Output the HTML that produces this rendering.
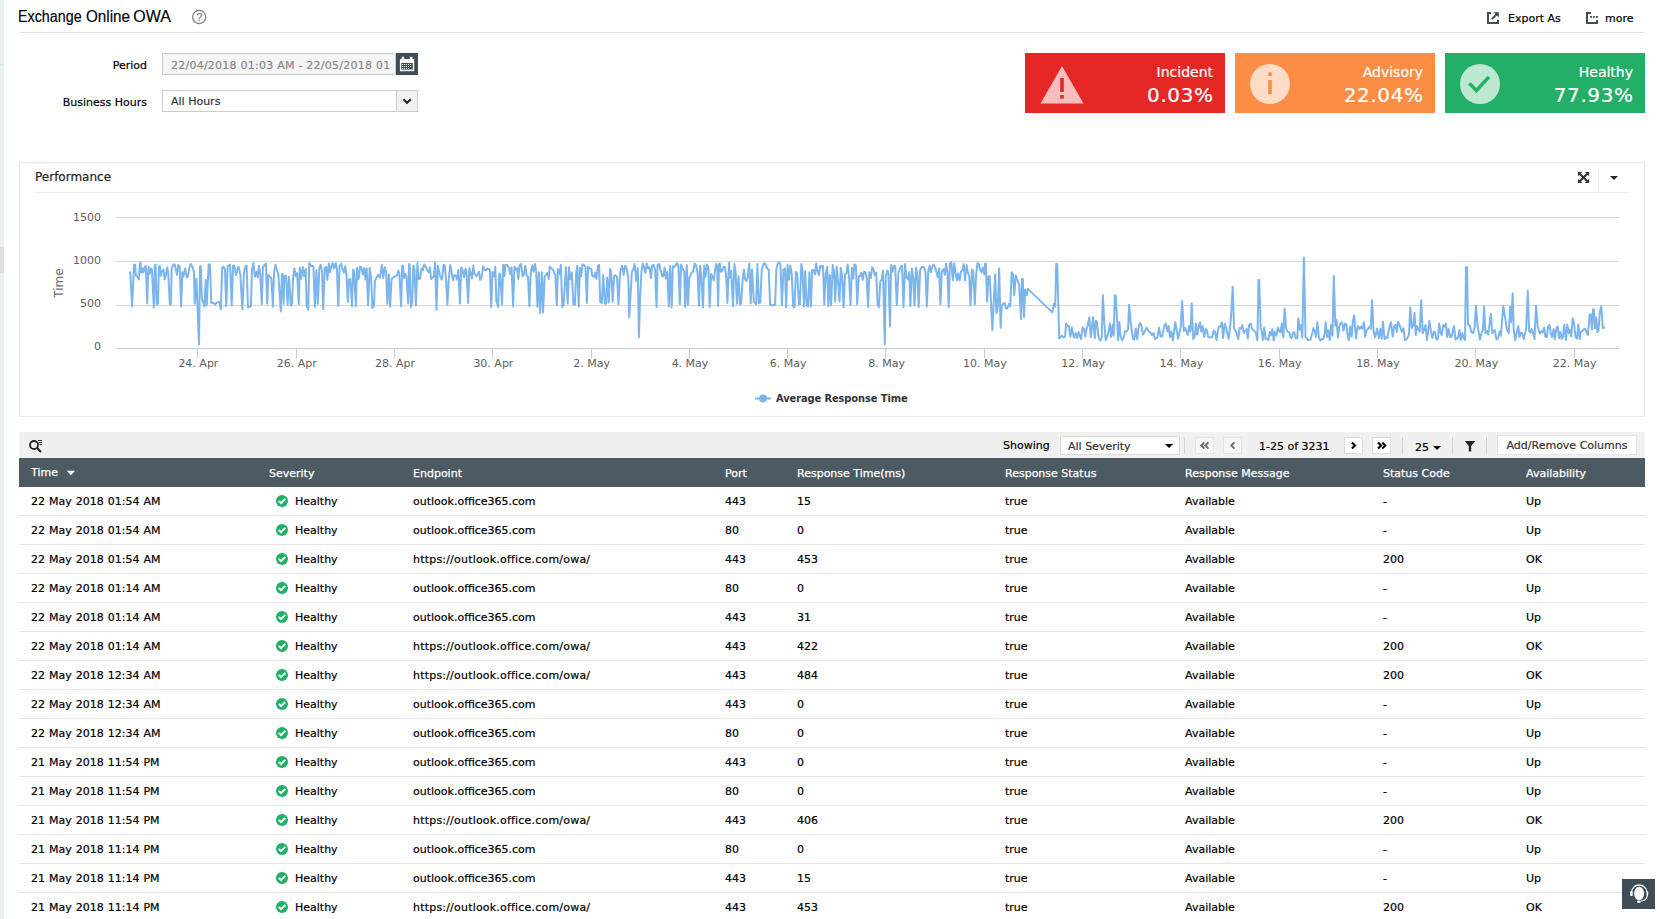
<!DOCTYPE html>
<html><head><meta charset="utf-8"><title>Exchange Online OWA</title>
<style>
html,body{margin:0;padding:0;}
body{width:1659px;height:919px;overflow:hidden;background:#fff;position:relative;font-family:"DejaVu Sans","Liberation Sans",sans-serif;font-size:11px;color:#000;-webkit-text-stroke:0.2px currentColor;}
.abs{position:absolute;}
#strip{left:0;top:0;width:4px;height:919px;background:#ebeff0;}
#strip i{position:absolute;left:0;width:4px;display:block;}
#title{left:19px;top:5.5px;width:160px;height:22px;font-family:"Liberation Sans",sans-serif;font-size:16px;line-height:22px;color:#000;white-space:nowrap;-webkit-text-stroke:0.15px #000;}
#title span{position:absolute;top:0;transform-origin:0 0;display:block;}
#hr{left:19px;top:32px;width:1626px;height:1px;background:#e3e3e3;}
.lbl{white-space:nowrap;line-height:14px;text-align:right;}
.tr{position:absolute;left:19px;width:1626px;height:28px;border-bottom:1px solid #e6e6e6;}
.c{position:absolute;top:1px;line-height:28px;white-space:nowrap;}
.c1{word-spacing:0.5px}
.url{letter-spacing:0.2px}
.c1{left:12px}.c2{left:257px}.c3{left:394px}.c4{left:706px}.c5{left:778px}.c6{left:986px}.c7{left:1166px}.c8{left:1364px}.c9{left:1507px}
.tk{position:absolute;left:0;top:7px;}
.hl{position:absolute;left:19px;top:0;}
#th{left:19px;top:458px;width:1626px;height:29px;background:#4c5a63;color:#fff;-webkit-text-stroke:0.25px #fff;}
#th .c{line-height:29px;top:1px;word-spacing:0}
#th .c1{top:0}
#tb{left:19px;top:432px;width:1626px;height:26px;background:#f0f0f0;}
.btn{position:absolute;box-sizing:border-box;border:1px solid #dcdcdc;background:#fff;}
.sep{position:absolute;width:1px;background:#d4d4d4;top:437px;height:17px;}
.ax{font-family:"DejaVu Sans","Liberation Sans",sans-serif;font-size:11px;fill:#606060;}
.card{position:absolute;top:53px;width:200px;height:60px;color:#fff;}
.card .n{position:absolute;right:12px;top:10px;font-size:14px;line-height:18px;white-space:nowrap;}
.card .v{position:absolute;right:11.400px;top:29px;font-size:20px;letter-spacing:0.6px;line-height:26px;white-space:nowrap;}
</style></head><body>
<div id="strip" class="abs"><i style="top:64px;height:1px;background:#dfe3e4"></i><i style="top:247px;height:26px;background:#dfe1e3"></i></div>
<div id="title" class="abs"><span style="left:-0.6px;transform:scaleX(0.894)">Exchange</span> <span style="left:66.6px;transform:scaleX(0.95)">Online</span> <span style="left:114.3px;transform:scaleX(1.0)">OWA</span></div>
<svg class="abs" style="left:191px;top:9px" width="16" height="16" viewBox="0 0 16 16"><circle cx="8.150" cy="8" r="6.600" fill="none" stroke="#777" stroke-width="1.150"/><text x="8.300" y="11.900" text-anchor="middle" font-family="Liberation Sans, sans-serif" font-size="10.500" fill="#777" stroke="#777" stroke-width="0.200">?</text></svg>
<div id="hr" class="abs"></div>

<svg class="abs" style="left:1486px;top:11px" width="14" height="14" viewBox="0 0 14 14"><path d="M4.900 2H2v10h10V8.800" fill="none" stroke="#3f4c55" stroke-width="2"/><path d="M6 8L11 3" fill="none" stroke="#3d4a54" stroke-width="1.8"/><path d="M7.5 1.2H12.8V6.5Z" fill="#3d4a54"/></svg>
<div class="abs lbl" style="left:1508px;top:12px">Export As</div>
<svg class="abs" style="left:1585px;top:11px" width="14" height="14" viewBox="0 0 14 14"><path d="M5.900 2H2v10h10V8.900" fill="none" stroke="#3f4c55" stroke-width="2"/><rect x="5.100" y="5" width="1.800" height="1.900" fill="#3f4c55"/><rect x="8" y="5" width="1.800" height="1.900" fill="#3f4c55"/><rect x="11" y="5" width="1.900" height="1.900" fill="#3f4c55"/></svg>
<div class="abs lbl" style="left:1605px;top:12px">more</div>

<div class="abs lbl" style="left:60px;width:87px;top:59px">Period</div>
<div class="abs" style="left:162px;top:53px;width:234px;height:22px;box-sizing:border-box;border:1px solid #ccc;background:#f5f5f5;color:#888;line-height:23px;padding-left:8px;white-space:nowrap;overflow:hidden;letter-spacing:0.24px">22/04/2018 01:03 AM - 22/05/2018 01</div>
<div class="abs" style="left:396px;top:53px;width:22px;height:22px;background:#3f4d58"></div>
<svg class="abs" style="left:396px;top:53px" width="22" height="22" viewBox="0 0 22 22"><rect x="3.9" y="6" width="14.3" height="12.2" fill="#fff"/><rect x="5.700" y="3.800" width="2.500" height="3.400" fill="#fff"/><rect x="13.900" y="3.800" width="2.500" height="3.400" fill="#fff"/><rect x="5.200" y="10" width="11.600" height="6.600" fill="#3f4d58"/><g fill="#fff"><rect x="6" y="11" width="1" height="1"/><rect x="8" y="11" width="1" height="1"/><rect x="10" y="11" width="1" height="1"/><rect x="12" y="11" width="1" height="1"/><rect x="14" y="11" width="1" height="1"/><rect x="6" y="13" width="1" height="1"/><rect x="8" y="13" width="1" height="1"/><rect x="10" y="13" width="1" height="1"/><rect x="12" y="13" width="1" height="1"/><rect x="14" y="13" width="1" height="1"/><rect x="6" y="15" width="1" height="1"/><rect x="8" y="15" width="1" height="1"/><rect x="10" y="15" width="1" height="1"/><rect x="12" y="15" width="1" height="1"/></g></svg>
<div class="abs lbl" style="left:40px;width:107px;top:96px">Business Hours</div>
<div class="abs" style="left:162px;top:90px;width:256px;height:22px;box-sizing:border-box;border:1px solid #ccc;background:#fff;color:#333;line-height:21px;padding-left:8px;white-space:nowrap">All Hours</div>
<div class="abs" style="left:396px;top:91px;width:21px;height:20px;background:#f2f2f2;border-left:1px solid #ccc;box-sizing:border-box"></div>
<svg class="abs" style="left:401px;top:96px" width="12" height="10" viewBox="0 0 12 10"><path d="M2.400 3.300L6.100 6.800L9.800 3.300" fill="none" stroke="#222" stroke-width="2"/></svg>

<div class="card" style="left:1025px;background:#e52725"><svg class="abs" style="left:14px;top:12px" width="46" height="40" viewBox="0 0 46 40"><path d="M23 1L44.5 38.5H1.500Z" fill="#f8bdbc"/><rect x="21.2" y="13" width="3.6" height="14" fill="#e52725"/><rect x="21.2" y="30" width="3.6" height="3.6" fill="#e52725"/></svg><div class="n">Incident</div><div class="v">0.03%</div></div>
<div class="card" style="left:1235px;background:#fb8d45"><svg class="abs" style="left:14px;top:10px" width="42" height="42" viewBox="0 0 42 42"><circle cx="21" cy="21" r="20" fill="#fedcc6"/><rect x="19.2" y="17" width="3.6" height="14" fill="#fb8d45"/><rect x="19.2" y="9.5" width="3.6" height="3.6" fill="#fb8d45"/></svg><div class="n">Advisory</div><div class="v">22.04%</div></div>
<div class="card" style="left:1445px;background:#22b068"><svg class="abs" style="left:14px;top:10px" width="42" height="42" viewBox="0 0 42 42"><circle cx="21" cy="21" r="20" fill="#bce7d1"/><path d="M10.300 20.400L17.400 27.500L30 13.800" fill="none" stroke="#22b068" stroke-width="3.400"/></svg><div class="n">Healthy</div><div class="v">77.93%</div></div>

<div class="abs" style="left:19px;top:162px;width:1626px;height:255px;box-sizing:border-box;border:1px solid #e9e9e9;background:#fff"></div>
<div class="abs" style="left:35px;top:169px;font-size:12px;line-height:16px;color:#222;white-space:nowrap">Performance</div>
<div class="abs" style="left:35px;top:192px;width:1594px;height:1px;background:#ececec"></div>
<svg class="abs" style="left:1577px;top:171px" width="14" height="14" viewBox="0 0 14 14"><path d="M2.600 2.700L10.400 10.300M10.400 2.700L2.600 10.300" stroke="#333" stroke-width="2.100" fill="none"/><path d="M0.900 1H5.100L0.900 5.200ZM12.100 1V5.200L7.900 1ZM0.900 12V7.800L5.100 12ZM12.100 12H7.900L12.100 7.800Z" fill="#333"/></svg>
<div class="abs" style="left:1598px;top:168px;width:1px;height:22px;background:#eee"></div>
<svg class="abs" style="left:1609px;top:175px" width="10" height="6" viewBox="0 0 10 6"><path d="M1 1H9L5 5Z" fill="#222"/></svg>

<svg class="abs" style="left:0;top:0" width="1659" height="430" viewBox="0 0 1659 430">
<g stroke="#d8d8d8" stroke-width="1" fill="none"><path d="M116 217.500H1619"/><path d="M116 261.500H1619"/><path d="M116 305.500H1619"/></g>
<path d="M116 348.500H1619" stroke="#c0d0e0" stroke-width="1" fill="none"/>
<text x="101" y="221" text-anchor="end" class="ax">1500</text>
<text x="101" y="263.500" text-anchor="end" class="ax">1000</text>
<text x="101" y="306.500" text-anchor="end" class="ax">500</text>
<text x="101" y="350" text-anchor="end" class="ax">0</text>
<text transform="translate(63.300,283) rotate(-90)" text-anchor="middle" class="ax" style="font-size:12px;fill:#707070">Time</text>
<path d="M197.5 348.5V358.5" stroke="#c0d0e0" stroke-width="1" fill="none"/><text x="198.4" y="367" text-anchor="middle" class="ax">24. Apr</text>
<path d="M296.5 348.5V358.5" stroke="#c0d0e0" stroke-width="1" fill="none"/><text x="296.8" y="367" text-anchor="middle" class="ax">26. Apr</text>
<path d="M394.5 348.5V358.5" stroke="#c0d0e0" stroke-width="1" fill="none"/><text x="395.1" y="367" text-anchor="middle" class="ax">28. Apr</text>
<path d="M492.5 348.5V358.5" stroke="#c0d0e0" stroke-width="1" fill="none"/><text x="493.4" y="367" text-anchor="middle" class="ax">30. Apr</text>
<path d="M591.5 348.5V358.5" stroke="#c0d0e0" stroke-width="1" fill="none"/><text x="591.6" y="367" text-anchor="middle" class="ax">2. May</text>
<path d="M689.5 348.5V358.5" stroke="#c0d0e0" stroke-width="1" fill="none"/><text x="690.0" y="367" text-anchor="middle" class="ax">4. May</text>
<path d="M787.5 348.5V358.5" stroke="#c0d0e0" stroke-width="1" fill="none"/><text x="788.2" y="367" text-anchor="middle" class="ax">6. May</text>
<path d="M885.5 348.5V358.5" stroke="#c0d0e0" stroke-width="1" fill="none"/><text x="886.6" y="367" text-anchor="middle" class="ax">8. May</text>
<path d="M984.5 348.5V358.5" stroke="#c0d0e0" stroke-width="1" fill="none"/><text x="984.9" y="367" text-anchor="middle" class="ax">10. May</text>
<path d="M1082.5 348.5V358.5" stroke="#c0d0e0" stroke-width="1" fill="none"/><text x="1083.1" y="367" text-anchor="middle" class="ax">12. May</text>
<path d="M1180.5 348.5V358.5" stroke="#c0d0e0" stroke-width="1" fill="none"/><text x="1181.4" y="367" text-anchor="middle" class="ax">14. May</text>
<path d="M1279.5 348.5V358.5" stroke="#c0d0e0" stroke-width="1" fill="none"/><text x="1279.7" y="367" text-anchor="middle" class="ax">16. May</text>
<path d="M1377.5 348.5V358.5" stroke="#c0d0e0" stroke-width="1" fill="none"/><text x="1378.0" y="367" text-anchor="middle" class="ax">18. May</text>
<path d="M1475.5 348.5V358.5" stroke="#c0d0e0" stroke-width="1" fill="none"/><text x="1476.3" y="367" text-anchor="middle" class="ax">20. May</text>
<path d="M1574.5 348.5V358.5" stroke="#c0d0e0" stroke-width="1" fill="none"/><text x="1574.6" y="367" text-anchor="middle" class="ax">22. May</text>
<path d="M130.2 272.2L132.1 306.5 134.0 264.9 135.1 264.5 136.0 275.8 137.7 276.7 138.8 279.4 139.9 263.6 140.6 262.7 141.3 272.6 142.6 268.6 143.5 272.6 144.4 267.7 145.8 265.8 147.2 303.4 148.1 273.1 148.7 266.8 149.6 274.0 150.8 268.6 151.9 269.5 153.8 307.4 154.8 265.8 155.6 264.5 156.6 304.3 158.0 303.8 158.9 266.8 159.8 265.8 160.7 275.8 161.9 271.3 163.4 269.5 164.8 279.4 166.1 274.0 167.3 267.2 168.2 273.1 169.9 304.7 170.8 304.3 171.7 268.6 173.4 264.5 174.7 264.5 176.1 270.4 177.0 274.9 178.3 264.9 179.7 266.8 181.1 306.5 182.4 272.2 183.3 276.7 185.1 268.6 186.8 277.6 188.0 276.2 189.6 266.8 190.8 264.0 192.4 266.8 193.9 272.2 194.8 303.8 196.4 278.5 199.0 344.6 200.0 266.3 200.8 266.3 201.9 298.4 204.4 306.5 205.7 279.9 206.8 305.2 208.6 264.5 210.0 264.5 211.3 302.9 213.2 302.9 215.2 304.5 216.8 302.5 219.5 302.0 220.8 309.2 222.2 267.7 223.6 266.6 224.9 269.5 226.3 306.1 227.6 266.3 230.1 264.5 231.7 305.6 233.0 265.8 234.4 265.8 236.0 274.9 238.5 266.8 240.3 274.0 242.4 309.2 243.9 273.1 245.7 265.8 246.6 265.8 248.0 307.4 250.9 306.5 252.0 269.5 253.4 263.0 255.0 276.7 256.6 271.7 257.7 277.2 259.0 265.8 260.2 274.4 261.8 304.3 262.9 266.8 264.2 265.8 265.9 263.6 267.2 303.8 268.3 274.9 269.7 276.7 270.5 277.2 271.4 278.5 272.9 306.5 274.1 272.2 275.4 264.8 276.8 269.5 278.3 274.0 280.8 311.5 281.9 274.0 282.7 274.4 283.6 303.8 284.5 276.2 286.1 275.8 287.6 304.7 289.0 276.7 290.8 305.6 292.0 303.8 293.1 277.6 294.4 268.6 295.8 276.2 297.1 273.1 298.8 304.3 299.8 267.7 301.2 279.0 302.7 266.8 304.2 276.2 305.7 269.0 306.6 305.6 308.2 309.7 309.3 263.1 311.1 265.8 313.4 266.3 314.9 307.0 316.4 269.9 317.9 303.8 319.3 267.7 320.6 264.9 322.0 271.3 323.2 309.2 324.7 268.1 326.2 266.8 327.4 279.9 328.8 263.6 329.9 272.2 331.5 265.8 332.6 263.0 334.0 268.6 335.8 263.3 336.9 268.6 338.3 306.1 339.6 265.8 341.2 263.6 342.3 268.6 344.0 272.6 345.2 266.3 346.4 274.0 347.9 302.0 348.8 279.9 350.3 279.0 352.0 306.5 353.2 269.5 354.1 271.3 355.9 306.1 357.0 268.1 358.6 279.0 360.0 266.8 361.3 267.2 362.7 274.4 364.3 268.1 365.4 279.4 366.7 268.6 368.1 305.2 369.7 268.1 371.1 277.6 372.4 307.9 374.0 305.6 374.9 281.2 376.5 277.6 377.9 274.9 379.9 277.6 381.9 264.9 383.2 278.1 384.8 267.2 386.2 272.2 387.3 303.8 388.9 274.4 390.1 306.5 391.6 279.0 393.0 277.6 395.2 276.5 397.0 275.3 398.2 270.4 399.3 273.1 401.1 306.1 402.2 265.4 402.9 265.8 404.1 278.1 405.4 274.0 406.5 276.7 408.1 303.4 409.1 264.0 409.7 264.0 410.9 307.0 412.2 302.9 413.3 265.4 414.4 268.6 415.9 305.2 417.4 263.1 418.6 279.0 420.0 278.5 421.5 268.6 422.7 270.4 424.3 264.5 425.8 266.8 427.7 271.3 428.8 272.2 429.9 267.2 431.1 279.0 432.6 277.6 434.0 275.8 435.1 262.2 436.5 309.7 437.8 265.8 439.4 273.1 441.2 279.0 442.1 279.4 443.5 264.9 444.8 265.4 446.2 282.1 447.4 304.7 448.9 277.6 450.3 264.9 451.6 272.2 453.0 280.3 454.3 275.3 456.1 275.8 457.0 279.4 458.4 269.9 459.9 303.4 461.3 267.2 462.5 269.9 464.1 277.2 465.5 268.6 466.5 271.3 468.1 302.9 469.4 268.1 470.6 273.1 472.0 278.5 473.3 265.8 474.2 273.1 476.3 276.2 479.0 271.7 480.1 279.9 481.7 277.2 483.0 266.3 484.4 269.5 486.0 270.4 487.3 268.6 489.9 269.5 491.2 307.0 492.6 271.7 493.5 276.2 494.6 276.2 495.3 266.8 496.4 301.1 498.2 307.0 499.3 273.5 500.2 274.4 502.1 304.3 503.2 264.9 504.5 276.2 505.4 264.9 506.8 264.9 509.0 267.7 510.1 274.0 511.6 267.2 513.1 306.5 514.5 266.8 516.1 269.9 517.2 268.1 518.3 279.0 519.7 264.9 521.2 264.0 522.6 276.2 524.0 274.4 525.3 265.8 526.7 275.8 528.0 276.7 529.4 306.1 530.7 273.1 532.3 265.8 533.7 271.7 535.0 264.0 536.2 271.3 537.5 307.0 538.9 272.2 540.2 312.9 541.9 272.2 543.1 312.4 544.6 276.7 546.1 274.4 547.5 273.1 548.8 279.0 549.7 266.8 551.5 268.1 553.3 270.4 555.4 275.3 556.8 305.2 557.9 269.0 559.4 274.0 560.9 264.9 562.3 307.0 563.6 305.2 565.9 267.2 567.7 303.4 569.0 267.2 570.4 279.4 571.8 272.6 573.4 304.3 574.9 304.7 576.1 274.0 577.2 265.8 578.7 306.5 579.9 267.7 581.2 276.2 582.6 264.5 584.0 264.9 585.5 267.2 586.9 302.9 588.0 266.8 589.8 268.6 591.2 269.0 592.4 276.2 594.2 276.7 595.3 272.6 596.4 279.0 598.0 265.8 599.1 264.9 600.2 301.6 601.8 303.4 603.2 274.9 604.8 303.4 606.1 303.4 607.2 277.6 608.8 302.5 610.0 269.0 611.1 272.2 612.7 301.6 614.1 275.8 615.6 275.6 617.0 277.2 618.5 304.3 619.9 274.9 621.0 268.6 622.2 265.8 623.7 274.9 625.1 265.8 626.9 269.5 628.3 277.6 629.2 317.4 630.5 295.7 631.9 271.7 633.4 269.5 634.6 264.0 636.4 281.2 637.8 268.1 638.9 337.3 640.0 300.2 641.4 272.2 642.7 263.6 643.9 266.8 645.3 273.1 646.8 263.6 648.2 268.6 649.5 267.2 650.9 278.1 652.2 265.4 653.6 264.8 655.1 269.5 656.5 307.0 657.6 264.9 659.2 264.0 660.6 269.9 662.2 276.2 663.5 276.2 664.6 267.7 666.0 278.5 667.3 271.7 668.8 306.5 670.1 266.3 671.7 307.4 672.8 266.3 674.4 267.2 675.7 265.4 677.1 263.1 678.4 265.8 679.8 304.3 681.0 264.5 683.0 269.5 684.3 271.7 685.2 307.0 686.8 264.9 687.9 304.7 689.3 277.6 691.1 274.0 693.1 271.3 694.7 263.6 696.1 265.4 697.6 273.1 699.0 305.6 700.1 265.8 701.5 278.5 703.0 307.4 704.2 265.4 705.5 276.7 707.0 264.5 708.4 267.7 709.7 307.0 711.1 274.0 712.2 276.2 713.8 280.3 715.1 269.5 716.3 264.0 717.2 266.8 718.1 306.1 719.0 264.0 719.9 263.6 720.8 271.7 722.2 270.4 723.7 266.8 724.9 267.2 726.2 275.8 727.4 302.9 729.0 262.7 729.9 277.6 731.2 270.8 733.0 306.1 734.4 264.0 735.7 273.1 736.9 303.8 738.6 276.2 739.8 304.3 741.2 303.4 742.5 281.2 743.9 269.5 745.1 279.0 746.3 281.2 747.5 278.1 749.3 263.6 750.7 303.4 752.0 269.5 753.8 302.0 756.1 304.3 757.4 264.0 758.8 303.4 760.2 302.9 761.8 269.0 763.3 264.9 764.5 263.1 765.8 264.5 767.2 268.6 768.7 269.5 770.1 304.3 772.4 305.5 775.1 304.7 776.4 268.6 777.8 263.6 779.1 262.2 780.5 264.9 781.9 305.2 783.5 269.5 785.0 268.6 786.1 307.4 787.5 264.5 788.9 279.4 790.3 265.4 791.8 274.4 793.2 306.5 794.5 307.4 795.9 271.7 797.2 274.0 799.0 304.7 799.9 304.3 801.3 264.0 802.5 269.9 804.0 306.5 805.2 271.3 806.7 305.2 808.1 306.5 809.4 272.2 811.0 306.5 812.1 269.9 814.0 270.4 815.0 274.4 816.2 263.6 817.6 271.7 818.9 274.9 820.3 265.8 821.6 267.2 823.0 265.8 824.3 304.3 825.7 274.0 827.2 266.8 828.4 306.1 829.8 274.9 831.1 305.2 832.7 264.9 834.1 272.2 835.2 301.6 836.7 266.8 838.1 282.1 839.5 301.6 840.8 267.7 842.2 275.8 843.6 307.4 845.0 274.4 846.3 273.5 847.7 264.5 849.0 275.8 850.5 305.2 852.0 267.7 853.2 278.5 854.5 264.5 855.9 265.4 857.2 304.3 858.8 276.2 860.1 276.2 861.3 272.6 862.7 279.9 864.0 271.7 865.6 272.6 866.7 278.5 868.1 307.0 869.3 272.2 870.8 278.1 872.2 267.2 873.7 269.9 874.9 275.3 876.2 272.6 877.6 305.2 878.9 307.0 880.3 281.2 881.6 279.9 883.0 270.4 884.8 344.5 885.7 276.2 887.3 270.4 888.4 273.1 890.0 326.4 891.1 264.9 892.5 271.7 893.9 265.8 895.2 266.3 896.8 305.2 898.4 273.1 900.2 267.7 902.0 265.8 903.5 307.4 905.0 264.0 906.5 277.6 908.1 279.4 909.2 272.2 910.4 306.1 911.9 268.6 913.3 278.1 914.5 305.6 916.0 267.7 917.4 274.9 918.7 307.0 920.1 270.4 921.9 266.8 924.1 267.2 925.5 272.2 926.9 306.5 928.2 272.2 929.6 265.8 930.9 272.2 932.3 266.8 933.6 264.5 935.4 267.7 937.7 277.2 939.1 268.6 940.4 304.3 941.8 271.3 943.6 269.0 944.8 274.9 946.1 263.6 947.5 273.1 948.7 307.0 949.9 263.6 951.3 262.2 952.8 280.3 954.2 263.6 955.5 272.6 957.0 280.3 958.2 273.5 959.7 280.3 961.0 271.7 962.6 269.9 963.7 264.0 965.0 280.3 966.6 264.9 967.8 272.6 969.3 276.2 970.5 305.2 972.1 269.5 973.2 271.7 974.8 304.3 976.1 274.4 977.5 263.1 978.8 264.0 980.2 269.9 981.6 272.2 982.9 267.7 984.3 274.4 985.0 264.0 985.9 263.6 987.1 301.6 988.3 276.7 989.7 276.2 992.4 330.0 995.1 274.4 996.5 313.3 997.8 305.6 999.2 268.6 1000.6 327.8 1001.7 305.6 1003.1 303.8 1004.7 302.9 1006.2 308.8 1007.6 307.9 1009.1 303.8 1010.3 306.1 1011.6 272.2 1013.0 274.0 1014.2 295.2 1015.7 275.3 1017.5 280.3 1019.1 284.8 1021.1 319.2 1021.9 279.0 1022.8 279.0 1024.0 316.9 1025.2 289.8 1026.6 295.2 1027.9 288.9 1052.3 312.4 1054.0 303.8 1055.2 306.7 1056.2 264.0 1057.2 264.0 1059.2 338.6 1061.9 335.6 1063.9 337.6 1065.1 336.6 1066.1 323.6 1067.7 326.1 1068.9 326.1 1070.4 336.6 1071.9 327.6 1073.9 337.6 1075.7 333.1 1076.9 338.1 1078.6 332.1 1081.0 339.1 1082.5 327.6 1084.0 328.6 1085.3 336.6 1086.6 328.6 1087.8 325.6 1089.3 317.2 1090.8 337.1 1093.0 317.2 1094.8 338.1 1095.9 320.7 1096.9 321.7 1098.4 336.6 1100.2 340.5 1101.7 337.6 1102.9 295.3 1104.2 321.7 1105.7 340.1 1108.2 333.6 1109.9 323.6 1111.2 337.1 1112.7 324.6 1113.7 335.6 1114.8 295.3 1115.8 295.8 1118.1 340.1 1119.3 322.2 1120.6 336.6 1122.1 340.5 1123.6 337.6 1125.1 331.1 1126.4 331.6 1128.1 329.1 1129.1 304.7 1130.8 323.6 1133.0 338.6 1134.3 339.6 1135.7 328.6 1137.2 339.1 1138.7 326.6 1140.0 323.1 1141.5 325.6 1143.0 334.6 1145.0 331.1 1146.7 327.6 1148.5 331.1 1150.5 332.6 1151.9 335.1 1153.6 333.1 1154.9 339.1 1157.4 337.6 1159.1 327.6 1160.7 336.6 1162.2 336.6 1164.4 325.6 1165.9 323.6 1167.4 331.6 1168.6 326.1 1170.0 337.1 1171.3 331.6 1172.8 340.5 1175.3 322.2 1176.8 331.1 1178.1 338.6 1180.8 326.6 1182.1 300.8 1183.8 331.1 1185.3 328.1 1187.7 335.1 1189.2 326.1 1190.4 331.6 1191.7 303.3 1193.2 339.1 1194.7 336.6 1195.9 323.6 1197.2 334.6 1198.7 326.6 1200.0 322.2 1201.2 331.6 1202.7 326.1 1204.2 337.1 1205.7 329.1 1206.9 330.1 1208.1 336.6 1209.6 337.6 1212.2 337.1 1213.8 330.6 1215.0 332.1 1216.5 340.1 1217.8 331.1 1219.0 326.6 1220.4 326.6 1221.9 322.2 1223.1 338.1 1224.7 323.6 1226.1 327.6 1228.7 339.1 1230.9 318.7 1232.7 286.8 1234.1 328.6 1236.1 331.6 1238.3 339.1 1239.6 328.1 1241.0 328.6 1242.3 325.1 1243.8 333.1 1245.3 330.6 1246.6 329.1 1247.8 338.6 1249.0 325.6 1250.6 323.6 1252.0 328.6 1253.8 330.6 1255.9 332.6 1257.4 340.5 1258.5 279.9 1259.2 280.4 1260.7 328.1 1261.7 331.6 1262.9 340.1 1264.2 327.6 1265.7 339.1 1267.0 338.6 1268.4 340.1 1269.7 332.1 1270.9 335.1 1272.4 329.1 1273.7 340.5 1274.8 332.1 1276.4 335.6 1277.9 327.6 1279.3 331.6 1280.6 332.1 1281.8 323.6 1283.3 337.1 1284.6 308.7 1286.1 328.6 1287.6 331.6 1289.1 332.1 1290.4 337.1 1291.6 338.1 1293.0 332.6 1294.3 332.1 1295.7 338.6 1297.3 338.1 1298.3 318.2 1299.8 329.6 1301.0 325.1 1302.3 337.6 1303.9 257.5 1305.5 336.6 1308.0 340.1 1310.5 339.6 1311.9 334.6 1313.4 328.1 1314.9 332.1 1315.9 337.1 1317.4 322.2 1318.9 337.6 1320.4 340.5 1321.9 339.1 1323.4 339.1 1324.6 334.6 1325.7 322.2 1327.2 337.1 1328.4 330.6 1329.8 340.1 1331.1 325.1 1332.5 335.6 1333.8 275.9 1335.3 325.6 1336.5 319.7 1338.0 337.6 1339.3 326.1 1340.8 323.1 1342.1 322.2 1343.5 330.6 1345.0 323.6 1346.5 324.6 1347.7 336.6 1348.9 340.1 1350.2 326.6 1351.7 336.6 1352.9 320.7 1354.2 315.2 1355.9 338.6 1357.2 328.6 1358.2 326.1 1359.7 329.1 1361.2 326.6 1362.5 328.6 1364.0 322.2 1365.2 337.1 1366.6 330.6 1368.1 328.6 1369.6 326.6 1370.8 328.6 1372.0 300.3 1373.5 330.6 1375.0 337.6 1377.2 328.6 1378.8 338.1 1380.4 329.1 1381.7 338.6 1382.9 321.7 1384.6 339.1 1385.9 337.1 1387.4 338.1 1388.7 330.6 1390.9 322.2 1392.7 336.6 1394.1 326.6 1395.7 325.1 1396.7 332.1 1398.0 321.7 1399.8 325.6 1401.8 331.6 1403.5 328.1 1404.8 340.1 1406.8 339.1 1409.0 335.1 1410.3 307.2 1411.8 328.1 1413.3 325.6 1414.5 312.7 1415.8 335.1 1416.9 326.1 1419.7 331.6 1421.2 300.3 1422.7 333.1 1424.2 329.6 1425.5 325.1 1427.0 340.1 1429.4 320.7 1430.9 331.1 1432.4 338.1 1433.9 331.6 1435.1 332.1 1436.4 339.6 1438.1 338.6 1439.1 323.6 1440.6 332.6 1441.8 335.1 1443.3 325.1 1444.6 326.6 1445.9 323.6 1447.1 337.1 1448.6 329.1 1450.1 337.1 1451.4 337.1 1454.0 326.1 1455.5 339.6 1458.0 337.6 1459.5 330.1 1460.8 340.1 1462.3 333.1 1463.5 337.6 1465.0 340.1 1466.0 267.0 1467.0 267.4 1468.0 324.6 1469.5 325.1 1471.4 332.1 1473.2 333.1 1474.6 327.6 1475.9 305.7 1477.6 325.6 1479.9 339.6 1481.9 332.1 1482.9 330.1 1484.1 306.7 1485.4 333.1 1486.9 331.1 1488.2 334.6 1490.8 313.7 1492.3 333.1 1494.8 330.1 1496.5 339.6 1498.3 337.6 1499.3 331.6 1500.8 335.6 1503.3 305.7 1505.3 318.7 1506.8 329.1 1508.7 333.1 1510.2 306.7 1511.2 322.2 1512.7 293.3 1513.7 329.6 1515.2 340.1 1516.7 332.6 1518.2 326.1 1519.5 337.1 1521.0 332.6 1522.2 333.1 1523.7 339.1 1526.1 329.1 1527.8 290.8 1529.1 331.1 1530.5 332.6 1531.7 329.1 1533.2 333.6 1534.5 339.1 1536.0 305.7 1537.7 326.6 1539.7 333.6 1541.2 331.1 1542.7 332.6 1544.2 327.6 1545.4 336.6 1546.8 337.1 1548.1 326.6 1549.6 325.1 1550.8 333.6 1552.1 337.1 1553.6 329.1 1554.8 339.1 1556.6 327.6 1557.8 326.6 1559.1 338.1 1560.4 332.1 1561.8 339.1 1563.0 336.6 1564.3 324.6 1566.0 340.1 1567.3 324.6 1568.8 333.1 1570.0 329.6 1571.3 336.6 1572.7 318.2 1574.0 322.6 1575.5 337.1 1577.0 338.6 1578.3 324.6 1579.8 339.1 1580.9 331.6 1582.4 331.1 1583.9 329.1 1585.4 329.1 1586.6 332.6 1587.9 335.1 1589.7 314.7 1590.7 314.2 1591.9 329.6 1593.1 309.2 1593.9 309.2 1594.9 328.1 1596.1 317.2 1597.4 332.1 1598.6 329.6 1599.8 312.2 1601.3 306.2 1602.8 328.1 1604.3 327.6" fill="none" stroke="#7cb5ec" stroke-width="2" stroke-linejoin="round" stroke-linecap="round"/>
<path d="M755 398.500H771" stroke="#7cb5ec" stroke-width="2"/><circle cx="763" cy="398.500" r="4" fill="#7cb5ec"/>
<text x="776" y="401.5" style="font-family:'DejaVu Sans Condensed','DejaVu Sans','Liberation Sans',sans-serif;font-size:11px;font-weight:bold;fill:#333;letter-spacing:-0.1px">Average Response Time</text>
</svg>

<div id="tb" class="abs"></div>
<svg class="abs" style="left:28px;top:438px" width="16" height="16" viewBox="0 0 16 16"><circle cx="6" cy="7" r="4" fill="none" stroke="#222" stroke-width="1.8"/><path d="M9 10L13 14" stroke="#222" stroke-width="2.2"/><path d="M10 2.500H14M10.8 4.500H14M11.6 6.500H14" stroke="#222" stroke-width="0.9"/></svg>
<div class="abs lbl" style="left:1003px;top:439px">Showing</div>
<div class="btn" style="left:1060px;top:436px;width:120px;height:19px;line-height:19px;padding-left:7px;color:#333">All Severity</div>
<svg class="abs" style="left:1163px;top:443px" width="11" height="6" viewBox="0 0 11 6"><path d="M1.900 0.900H10.200L6.050 5Z" fill="#000"/></svg>
<div class="sep" style="left:1184px"></div>
<div class="btn" style="left:1195px;top:437px;width:19px;height:17px;background:#f5f5f5;border-color:#e3e3e3"></div>
<svg class="abs" style="left:1199px;top:441px" width="11" height="9" viewBox="0 0 11 9"><path d="M5.300 1.400L2.200 4.500L5.300 7.600M9.400 1.400L6.300 4.500L9.400 7.600" fill="none" stroke="#6a6a6a" stroke-width="1.900"/></svg>
<div class="btn" style="left:1223px;top:437px;width:19px;height:17px;background:#f5f5f5;border-color:#e3e3e3"></div>
<svg class="abs" style="left:1229px;top:441px" width="7" height="9" viewBox="0 0 7 9"><path d="M5.400 1.400L2.300 4.500L5.400 7.600" fill="none" stroke="#6a6a6a" stroke-width="1.900"/></svg>
<div class="abs lbl" style="left:1259px;top:440px">1-25 of 3231</div>
<div class="btn" style="left:1344px;top:437px;width:19px;height:17px"></div>
<svg class="abs" style="left:1350px;top:441px" width="7" height="9" viewBox="0 0 7 9"><path d="M1.900 1.400L5 4.500L1.900 7.600" fill="none" stroke="#000" stroke-width="2.100"/></svg>
<div class="btn" style="left:1372px;top:437px;width:19px;height:17px"></div>
<svg class="abs" style="left:1376px;top:441px" width="11" height="9" viewBox="0 0 11 9"><path d="M2 1.400L5.100 4.500L2 7.600M6.200 1.400L9.300 4.500L6.200 7.600" fill="none" stroke="#000" stroke-width="2.100"/></svg>
<div class="sep" style="left:1402px"></div>
<div class="abs lbl" style="left:1415px;top:441px">25</div>
<svg class="abs" style="left:1432px;top:445px" width="10" height="6" viewBox="0 0 10 6"><path d="M1.100 0.900H9L5.050 4.900Z" fill="#000"/></svg>
<div class="sep" style="left:1452px"></div>
<svg class="abs" style="left:1464px;top:440px" width="12" height="12" viewBox="0 0 12 12"><path d="M0.8 1H11.200L7.200 6V11.500H4.800V6Z" fill="#222"/></svg>
<div class="sep" style="left:1486px"></div>
<div class="btn" style="left:1497px;top:435px;width:140px;height:20px;line-height:20px;text-align:center;color:#333;border-color:#e5e5e5">Add/Remove Columns</div>

<div id="th" class="abs"><span class="c c1">Time</span><span class="c" style="left:250px">Severity</span><span class="c c3">Endpoint</span><span class="c c4">Port</span><span class="c c5">Response Time(ms)</span><span class="c c6">Response Status</span><span class="c c7">Response Message</span><span class="c c8">Status Code</span><span class="c c9">Availability</span></div>
<svg class="abs" style="left:65px;top:470px" width="11" height="6" viewBox="0 0 11 6"><path d="M1.700 0.800H10.100L5.900 5.300Z" fill="#fff"/></svg>
<div class="tr" style="top:487px"><span class="c c1">22 May 2018 01:54 AM</span><span class="c c2"><svg class="tk" viewBox="0 0 12 12" width="12" height="12"><circle cx="6" cy="6" r="6" fill="#22b068"/><path d="M2.800 5.900L5 8.100L9.300 3.900" fill="none" stroke="#fff" stroke-width="1.950"/></svg><span class="hl">Healthy</span></span><span class="c c3">outlook.office365.com</span><span class="c c4">443</span><span class="c c5">15</span><span class="c c6">true</span><span class="c c7">Available</span><span class="c c8">-</span><span class="c c9">Up</span></div>
<div class="tr" style="top:516px"><span class="c c1">22 May 2018 01:54 AM</span><span class="c c2"><svg class="tk" viewBox="0 0 12 12" width="12" height="12"><circle cx="6" cy="6" r="6" fill="#22b068"/><path d="M2.800 5.900L5 8.100L9.300 3.900" fill="none" stroke="#fff" stroke-width="1.950"/></svg><span class="hl">Healthy</span></span><span class="c c3">outlook.office365.com</span><span class="c c4">80</span><span class="c c5">0</span><span class="c c6">true</span><span class="c c7">Available</span><span class="c c8">-</span><span class="c c9">Up</span></div>
<div class="tr" style="top:545px"><span class="c c1">22 May 2018 01:54 AM</span><span class="c c2"><svg class="tk" viewBox="0 0 12 12" width="12" height="12"><circle cx="6" cy="6" r="6" fill="#22b068"/><path d="M2.800 5.900L5 8.100L9.300 3.900" fill="none" stroke="#fff" stroke-width="1.950"/></svg><span class="hl">Healthy</span></span><span class="c c3 url">https://outlook.office.com/owa/</span><span class="c c4">443</span><span class="c c5">453</span><span class="c c6">true</span><span class="c c7">Available</span><span class="c c8">200</span><span class="c c9">OK</span></div>
<div class="tr" style="top:574px"><span class="c c1">22 May 2018 01:14 AM</span><span class="c c2"><svg class="tk" viewBox="0 0 12 12" width="12" height="12"><circle cx="6" cy="6" r="6" fill="#22b068"/><path d="M2.800 5.900L5 8.100L9.300 3.900" fill="none" stroke="#fff" stroke-width="1.950"/></svg><span class="hl">Healthy</span></span><span class="c c3">outlook.office365.com</span><span class="c c4">80</span><span class="c c5">0</span><span class="c c6">true</span><span class="c c7">Available</span><span class="c c8">-</span><span class="c c9">Up</span></div>
<div class="tr" style="top:603px"><span class="c c1">22 May 2018 01:14 AM</span><span class="c c2"><svg class="tk" viewBox="0 0 12 12" width="12" height="12"><circle cx="6" cy="6" r="6" fill="#22b068"/><path d="M2.800 5.900L5 8.100L9.300 3.900" fill="none" stroke="#fff" stroke-width="1.950"/></svg><span class="hl">Healthy</span></span><span class="c c3">outlook.office365.com</span><span class="c c4">443</span><span class="c c5">31</span><span class="c c6">true</span><span class="c c7">Available</span><span class="c c8">-</span><span class="c c9">Up</span></div>
<div class="tr" style="top:632px"><span class="c c1">22 May 2018 01:14 AM</span><span class="c c2"><svg class="tk" viewBox="0 0 12 12" width="12" height="12"><circle cx="6" cy="6" r="6" fill="#22b068"/><path d="M2.800 5.900L5 8.100L9.300 3.900" fill="none" stroke="#fff" stroke-width="1.950"/></svg><span class="hl">Healthy</span></span><span class="c c3 url">https://outlook.office.com/owa/</span><span class="c c4">443</span><span class="c c5">422</span><span class="c c6">true</span><span class="c c7">Available</span><span class="c c8">200</span><span class="c c9">OK</span></div>
<div class="tr" style="top:661px"><span class="c c1">22 May 2018 12:34 AM</span><span class="c c2"><svg class="tk" viewBox="0 0 12 12" width="12" height="12"><circle cx="6" cy="6" r="6" fill="#22b068"/><path d="M2.800 5.900L5 8.100L9.300 3.900" fill="none" stroke="#fff" stroke-width="1.950"/></svg><span class="hl">Healthy</span></span><span class="c c3 url">https://outlook.office.com/owa/</span><span class="c c4">443</span><span class="c c5">484</span><span class="c c6">true</span><span class="c c7">Available</span><span class="c c8">200</span><span class="c c9">OK</span></div>
<div class="tr" style="top:690px"><span class="c c1">22 May 2018 12:34 AM</span><span class="c c2"><svg class="tk" viewBox="0 0 12 12" width="12" height="12"><circle cx="6" cy="6" r="6" fill="#22b068"/><path d="M2.800 5.900L5 8.100L9.300 3.900" fill="none" stroke="#fff" stroke-width="1.950"/></svg><span class="hl">Healthy</span></span><span class="c c3">outlook.office365.com</span><span class="c c4">443</span><span class="c c5">0</span><span class="c c6">true</span><span class="c c7">Available</span><span class="c c8">-</span><span class="c c9">Up</span></div>
<div class="tr" style="top:719px"><span class="c c1">22 May 2018 12:34 AM</span><span class="c c2"><svg class="tk" viewBox="0 0 12 12" width="12" height="12"><circle cx="6" cy="6" r="6" fill="#22b068"/><path d="M2.800 5.900L5 8.100L9.300 3.900" fill="none" stroke="#fff" stroke-width="1.950"/></svg><span class="hl">Healthy</span></span><span class="c c3">outlook.office365.com</span><span class="c c4">80</span><span class="c c5">0</span><span class="c c6">true</span><span class="c c7">Available</span><span class="c c8">-</span><span class="c c9">Up</span></div>
<div class="tr" style="top:748px"><span class="c c1">21 May 2018 11:54 PM</span><span class="c c2"><svg class="tk" viewBox="0 0 12 12" width="12" height="12"><circle cx="6" cy="6" r="6" fill="#22b068"/><path d="M2.800 5.900L5 8.100L9.300 3.900" fill="none" stroke="#fff" stroke-width="1.950"/></svg><span class="hl">Healthy</span></span><span class="c c3">outlook.office365.com</span><span class="c c4">443</span><span class="c c5">0</span><span class="c c6">true</span><span class="c c7">Available</span><span class="c c8">-</span><span class="c c9">Up</span></div>
<div class="tr" style="top:777px"><span class="c c1">21 May 2018 11:54 PM</span><span class="c c2"><svg class="tk" viewBox="0 0 12 12" width="12" height="12"><circle cx="6" cy="6" r="6" fill="#22b068"/><path d="M2.800 5.900L5 8.100L9.300 3.900" fill="none" stroke="#fff" stroke-width="1.950"/></svg><span class="hl">Healthy</span></span><span class="c c3">outlook.office365.com</span><span class="c c4">80</span><span class="c c5">0</span><span class="c c6">true</span><span class="c c7">Available</span><span class="c c8">-</span><span class="c c9">Up</span></div>
<div class="tr" style="top:806px"><span class="c c1">21 May 2018 11:54 PM</span><span class="c c2"><svg class="tk" viewBox="0 0 12 12" width="12" height="12"><circle cx="6" cy="6" r="6" fill="#22b068"/><path d="M2.800 5.900L5 8.100L9.300 3.900" fill="none" stroke="#fff" stroke-width="1.950"/></svg><span class="hl">Healthy</span></span><span class="c c3 url">https://outlook.office.com/owa/</span><span class="c c4">443</span><span class="c c5">406</span><span class="c c6">true</span><span class="c c7">Available</span><span class="c c8">200</span><span class="c c9">OK</span></div>
<div class="tr" style="top:835px"><span class="c c1">21 May 2018 11:14 PM</span><span class="c c2"><svg class="tk" viewBox="0 0 12 12" width="12" height="12"><circle cx="6" cy="6" r="6" fill="#22b068"/><path d="M2.800 5.900L5 8.100L9.300 3.900" fill="none" stroke="#fff" stroke-width="1.950"/></svg><span class="hl">Healthy</span></span><span class="c c3">outlook.office365.com</span><span class="c c4">80</span><span class="c c5">0</span><span class="c c6">true</span><span class="c c7">Available</span><span class="c c8">-</span><span class="c c9">Up</span></div>
<div class="tr" style="top:864px"><span class="c c1">21 May 2018 11:14 PM</span><span class="c c2"><svg class="tk" viewBox="0 0 12 12" width="12" height="12"><circle cx="6" cy="6" r="6" fill="#22b068"/><path d="M2.800 5.900L5 8.100L9.300 3.900" fill="none" stroke="#fff" stroke-width="1.950"/></svg><span class="hl">Healthy</span></span><span class="c c3">outlook.office365.com</span><span class="c c4">443</span><span class="c c5">15</span><span class="c c6">true</span><span class="c c7">Available</span><span class="c c8">-</span><span class="c c9">Up</span></div>
<div class="tr" style="top:893px"><span class="c c1">21 May 2018 11:14 PM</span><span class="c c2"><svg class="tk" viewBox="0 0 12 12" width="12" height="12"><circle cx="6" cy="6" r="6" fill="#22b068"/><path d="M2.800 5.900L5 8.100L9.300 3.900" fill="none" stroke="#fff" stroke-width="1.950"/></svg><span class="hl">Healthy</span></span><span class="c c3 url">https://outlook.office.com/owa/</span><span class="c c4">443</span><span class="c c5">453</span><span class="c c6">true</span><span class="c c7">Available</span><span class="c c8">200</span><span class="c c9">OK</span></div>
<div class="abs" style="left:1622px;top:879px;width:33px;height:30px;background:#3f4d56"></div>
<svg class="abs" style="left:1622px;top:879px" width="33" height="30" viewBox="0 0 33 30"><ellipse cx="17.100" cy="14.500" rx="5" ry="6.700" fill="#fff"/><path d="M9.600 13.200A7.600 7.200 0 0 1 24.800 13.200" fill="none" stroke="#fff" stroke-width="1.300"/><rect x="8.100" y="12.100" width="2.600" height="5" rx="1.200" fill="#fff"/><rect x="24.600" y="12.300" width="1.600" height="4.400" rx="0.800" fill="#fff"/><path d="M25.400 16C25.200 19.800 22.300 21.900 18.500 22.300" fill="none" stroke="#fff" stroke-width="1.100"/><ellipse cx="16.900" cy="22.700" rx="1.900" ry="1.300" fill="#fff"/></svg>
</body></html>
